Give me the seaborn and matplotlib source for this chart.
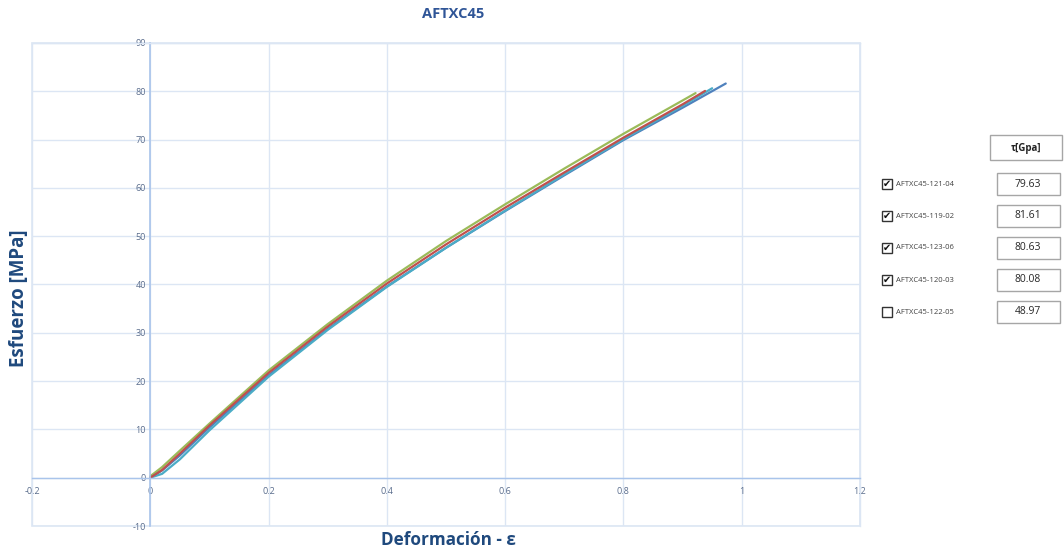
import matplotlib
matplotlib.use("Agg")
import matplotlib.pyplot as plt
from matplotlib.patches import Rectangle
import seaborn as sns
import pandas as pd

# ---------------- data ----------------
title = "AFTXC45"
x_label = "Deformación - ε"
y_label = "Esfuerzo [MPa]"
table_header = "τ[Gpa]"

series_names = ["AFTXC45-121-04", "AFTXC45-119-02", "AFTXC45-123-06",
                "AFTXC45-120-03", "AFTXC45-122-05"]
series_checked = [True, True, True, True, False]
series_tau = ["79.63", "81.61", "80.63", "80.08", "48.97"]
series_colors = ["#9BBB59", "#4F81BD", "#4BACC6", "#C0504D", "#8064A2"]

strain_121_04 = [0, 0.02, 0.05, 0.1, 0.2, 0.3, 0.4, 0.5, 0.6, 0.7, 0.8, 0.9, 0.922]
stress_121_04 = [0.3, 2.2, 5.6, 11.2, 22.2, 31.8, 40.8, 49.0, 56.6, 64.0, 71.2, 78.1, 79.63]

strain_119_02 = [0, 0.02, 0.05, 0.1, 0.2, 0.3, 0.4, 0.5, 0.6, 0.7, 0.8, 0.9, 0.973]
stress_119_02 = [0.0, 1.5, 4.6, 10.4, 21.2, 30.8, 39.6, 47.6, 55.2, 62.6, 69.9, 76.6, 81.61]

strain_123_06 = [0, 0.02, 0.05, 0.1, 0.2, 0.3, 0.4, 0.5, 0.6, 0.7, 0.8, 0.9, 0.950]
stress_123_06 = [0.0, 0.8, 3.8, 9.8, 20.9, 30.6, 39.5, 47.6, 55.3, 62.8, 70.1, 77.0, 80.63]

strain_120_03 = [0, 0.02, 0.05, 0.1, 0.2, 0.3, 0.4, 0.5, 0.6, 0.7, 0.8, 0.9, 0.938]
stress_120_03 = [0.0, 1.6, 5.0, 10.8, 21.7, 31.3, 40.2, 48.3, 55.9, 63.2, 70.4, 77.3, 80.08]

x_ticks = [-0.2, 0, 0.2, 0.4, 0.6, 0.8, 1, 1.2]
x_tick_labels = ["-0.2", "0", "0.2", "0.4", "0.6", "0.8", "1", "1.2"]
y_ticks = [-10, 0, 10, 20, 30, 40, 50, 60, 70, 80, 90]
y_tick_labels = ["-10", "0", "10", "20", "30", "40", "50", "60", "70", "80", "90"]

# ---------------- build long-form frame ----------------
curves = {
    "AFTXC45-121-04": (strain_121_04, stress_121_04),
    "AFTXC45-119-02": (strain_119_02, stress_119_02),
    "AFTXC45-123-06": (strain_123_06, stress_123_06),
    "AFTXC45-120-03": (strain_120_03, stress_120_03),
}
rows = []
for name, (xs, ys) in curves.items():
    for xv, yv in zip(xs, ys):
        rows.append({"serie": name, "strain": xv, "stress": yv})
df = pd.DataFrame(rows)
palette = {n: c for n, c in zip(series_names, series_colors)}

# ---------------- figure ----------------
sns.set_theme(style="white")
plt.rcParams["font.family"] = ["Open Sans", "DejaVu Sans"]

W, H = 1064, 554
fig = plt.figure(figsize=(W / 100, H / 100), dpi=100)
fig.patch.set_facecolor("white")


def fx(px):
    return px / W


def fy(py):
    return 1 - py / H


ax = fig.add_axes([fx(32), fy(526), fx(860) - fx(32), fy(43) - fy(526)])

grid_c = "#DCE6F4"
axis_c = "#A9C4EB"
tick_c = "#596C8C"

ax.set_xlim(-0.2, 1.2)
ax.set_ylim(-10, 90)
ax.set_xticks(x_ticks)
ax.set_xticklabels(x_tick_labels)
ax.set_yticks(y_ticks)
ax.set_yticklabels(y_tick_labels)
ax.grid(True, color=grid_c, linewidth=1.0)
ax.set_axisbelow(True)

# outer plot-area border
ax.add_patch(Rectangle((0, 0), 1, 1, transform=ax.transAxes, fill=False,
                       edgecolor=grid_c, linewidth=1.2, clip_on=False, zorder=0.5))

for side in ["top", "right"]:
    ax.spines[side].set_color(grid_c)
    ax.spines[side].set_linewidth(1.0)
ax.spines["left"].set_position(("data", 0))
ax.spines["bottom"].set_position(("data", 0))
ax.spines["left"].set_color(axis_c)
ax.spines["bottom"].set_color(axis_c)
ax.spines["left"].set_linewidth(1.2)
ax.spines["bottom"].set_linewidth(1.0)
ax.tick_params(axis="both", length=0, labelsize=6.5, labelcolor=tick_c)
ax.tick_params(axis="x", pad=7)
ax.tick_params(axis="y", pad=3)

sns.lineplot(data=df, x="strain", y="stress", hue="serie",
             palette=palette, sort=False, estimator=None, linewidth=1.6,
             legend=False, ax=ax)
ax.set_xlabel("")
ax.set_ylabel("")

# titles and axis labels
title_c = "#2F5597"
lab_c = "#1F497D"
fig.text(fx(453), fy(14), title, ha="center", va="center", fontsize=10.5,
         fontweight="bold", color=title_c)
fig.text(fx(19), fy(298), y_label, ha="center", va="center", rotation=90,
         fontsize=13.5, fontweight="bold", color=lab_c)
fig.text(fx(448), fy(540), x_label, ha="center", va="center",
         fontsize=12.3, fontweight="bold", color=lab_c)

# ---------------- side table ----------------
box_ec = "#A6A6A6"
fig.add_artist(Rectangle((fx(990), fy(160)), fx(1062) - fx(990), fy(135) - fy(160),
                         transform=fig.transFigure, facecolor="white",
                         edgecolor=box_ec, linewidth=1.0))
fig.text(fx(1026), fy(148), table_header, ha="center", va="center",
         fontsize=7, fontweight="bold", color="#262626")

row_y = [184, 216, 248, 280, 312]
for name, chk, tau, ry in zip(series_names, series_checked, series_tau, row_y):
    fig.add_artist(Rectangle((fx(997), fy(ry + 11)), fx(1060) - fx(997), fy(ry - 11) - fy(ry + 11),
                             transform=fig.transFigure, facecolor="white",
                             edgecolor=box_ec, linewidth=1.0))
    fig.text(fx(1028), fy(ry), tau, ha="center", va="center",
             fontsize=7.5, color="#262626")
    fig.add_artist(Rectangle((fx(882), fy(ry + 5)), fx(892) - fx(882), fy(ry - 5) - fy(ry + 5),
                             transform=fig.transFigure, facecolor="white",
                             edgecolor="#333333", linewidth=1.0))
    if chk:
        fig.text(fx(887), fy(ry), "✔", ha="center", va="center",
                 fontsize=7, color="#111111", family=["DejaVu Sans"])
    fig.text(fx(896), fy(ry), name, ha="left", va="center",
             fontsize=5.5, color="#404040")

fig.savefig("out.png", dpi=100, facecolor="white")
